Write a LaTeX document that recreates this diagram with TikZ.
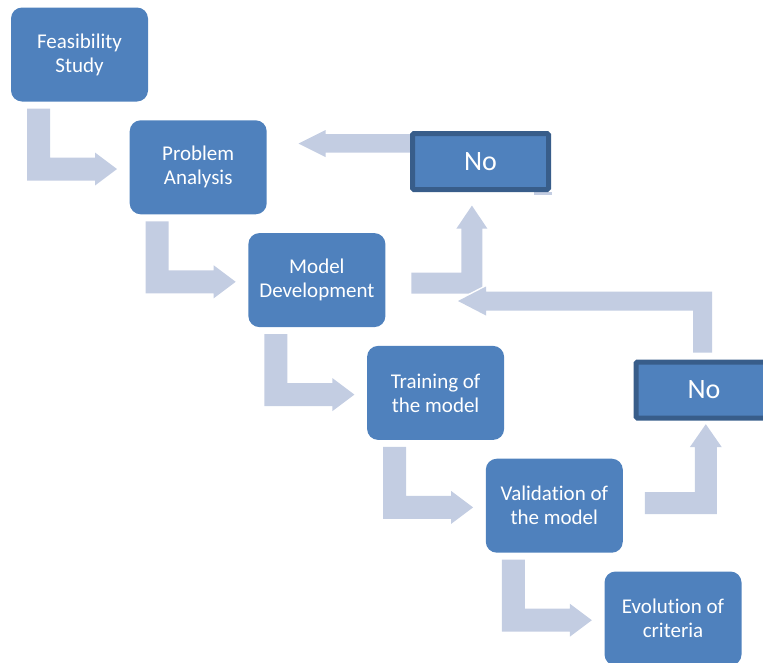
\documentclass[tikz,border=0pt]{standalone}
\usepackage{fontspec}
\setmainfont[RawFeature={-liga;-clig;-calt;-dlig}]{Carlito}
\usetikzlibrary{calc,backgrounds}
\definecolor{boxblue}{HTML}{4F81BD}
\definecolor{edgeblue}{HTML}{385D8A}
\definecolor{arrowgray}{HTML}{C3CDE2}

\begin{document}
\begin{tikzpicture}[x=1pt,y=-1pt,
  stage/.style={rectangle, rounded corners=11pt, fill=boxblue,
    minimum width=137pt, minimum height=94pt, inner sep=0pt, outer sep=0pt,
    text=white, align=center, font=\fontsize{21}{24}\selectfont},
  answer/.style={rectangle, rounded corners=1.5pt, fill=boxblue, draw=edgeblue,
    line width=5pt, minimum width=136pt, minimum height=56pt, inner sep=0pt,
    outer sep=0pt, text=white, font=\fontsize{28}{30}\selectfont},
  blockarrow/.style={fill=arrowgray},
  cutarrow/.style={fill=arrowgray, preaction={draw=white, line width=3pt}}
]
\useasboundingbox (0,0) rectangle (763,662);
\clip (0,0) rectangle (763,662);

% process stages, stepping down to the right
\node[stage] (feas)  at (79.5,54.5)  {Feasibility\\Study};
\node[stage] (prob)  at (198.2,167.3) {Problem\\Analysis};
\node[stage] (model) at (316.9,280.1) {Model\\Development};
\node[stage] (train) at (435.6,392.9) {Training of\\the model};
\node[stage] (valid) at (554.3,505.7) {Validat\kern0pt ion of\\the model};
\node[stage] (evol)  at (673,618.5)  {Evolut\kern0pt ion of\\criteria};

% decision boxes
\node[answer] (no1) at (480.5,161.5) {No};
\node[answer] (no2) at (704,390) {No};

\begin{scope}[on background layer]
  % bent block arrows between consecutive stages
  \foreach \src in {feas,prob,model,train,valid}{
    \path[blockarrow] ($(\src.south west)+(16,7)$) -- ++(23,0) -- ++(0,49)
      -- ++(45,0) -- ++(0,-5) -- ++(22,16.5) -- ++(-22,16.5) -- ++(0,-5)
      -- ++(-68,0) -- cycle;
  }
  % upper "No" back to Problem Analysis
  \path[blockarrow] ($(no1.west)+(2,-27.5)$) -- ++(-89,0) -- ++(0,-4)
    -- ++(-27,13.5) -- ++(27,13.5) -- ++(0,-4.5) -- ++(89,0) -- cycle;
  % Model Development up to the upper "No"
  \path[blockarrow] ($(model.east)+(26,-7.5)$) -- ++(50,0) -- ++(0,-44)
    -- ++(-5,0) -- ++(15.5,-23) -- ++(15.5,23) -- ++(-5,0) -- ++(0,65)
    -- ++(-71,0) -- cycle;
  % lower "No" back to Model Development
  \path[cutarrow] ($(no2.north)+(8,-9.5)$) -- ++(0,-61) -- ++(-226,0)
    -- ++(0,-5) -- ++(-28,14.5) -- ++(28,14.5) -- ++(0,-5) -- ++(207,0)
    -- ++(0,42) -- cycle;
  % Validation up to the lower "No"
  \path[blockarrow] ($(valid.east)+(22,-13.5)$) -- ++(50,0) -- ++(0,-45)
    -- ++(-5,0) -- ++(16,-23) -- ++(16,23) -- ++(-5,0) -- ++(0,67)
    -- ++(-72,0) -- cycle;
  % thin strip under the upper "No"
  \fill[arrowgray] ($(no1.south east)+(-15,2.5)$) rectangle ++(18,3);
\end{scope}
\end{tikzpicture}
\end{document}
